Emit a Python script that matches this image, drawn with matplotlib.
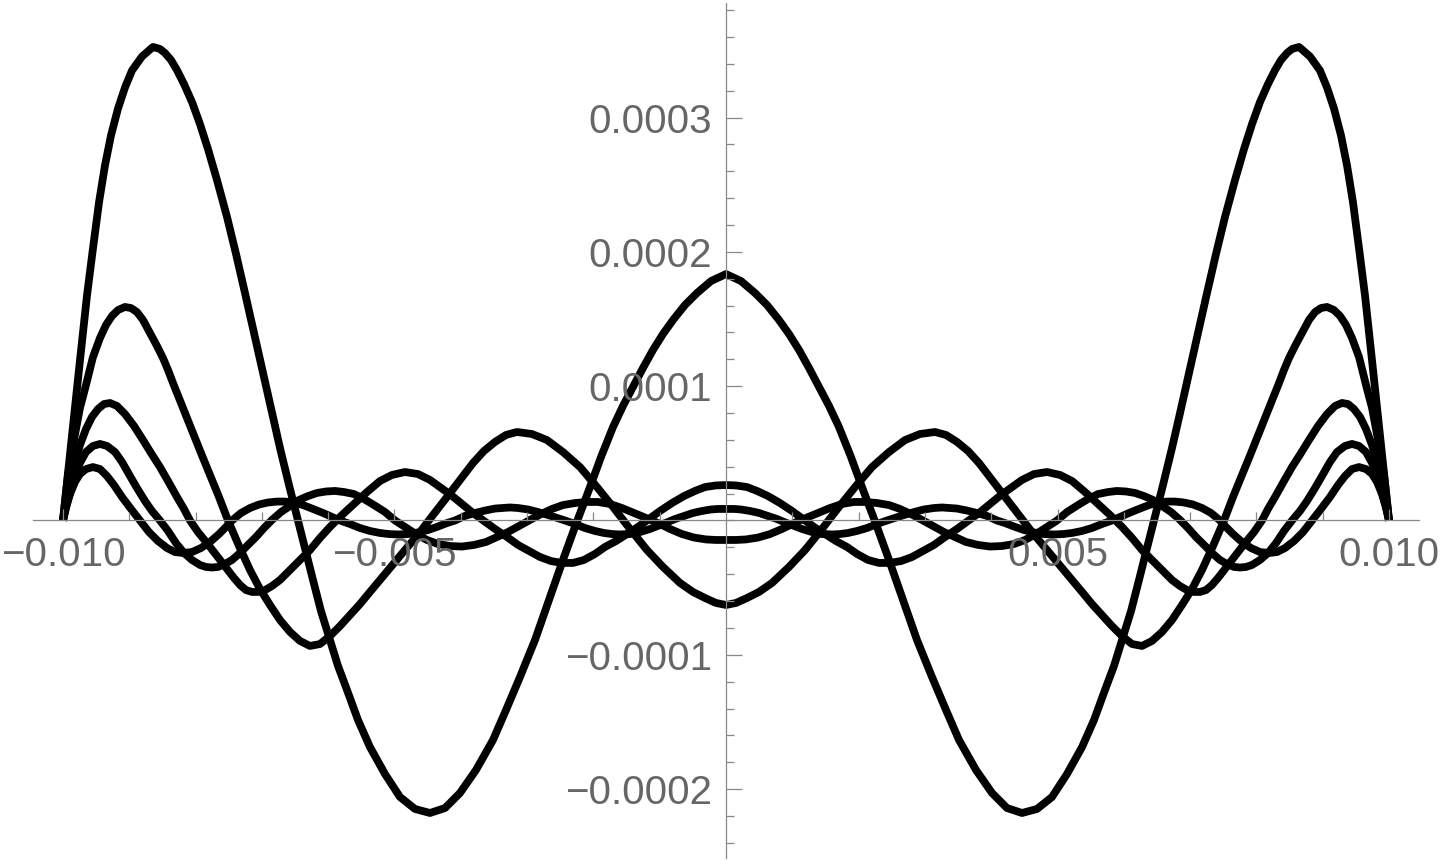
import numpy as np
import matplotlib
matplotlib.use("Agg")
import matplotlib.pyplot as plt
from matplotlib.ticker import MultipleLocator, FixedLocator

## left half of every curve
## x in units of 1e-3, y in units of 1e-5 ; the figure is mirror symmetric about x = 0
xa = [-10.0, -9.925, -9.849, -9.744, -9.638, -9.548, -9.457, -9.367, -9.276, -9.170, -9.065,
      -8.959, -8.808, -8.643, -8.537, -8.462, -8.371, -8.281, -8.175, -8.054, -7.934, -7.813,
      -7.677, -7.526, -7.390, -7.255, -7.119, -6.983, -6.848, -6.727, -6.591, -6.456, -6.350,
      -6.229, -6.109, -5.973, -5.852, -5.716, -5.551, -5.370, -5.143, -4.917, -4.691, -4.465,
      -4.238, -4.012, -3.771, -3.514, -3.318, -3.107, -2.881, -2.670, -2.459, -2.262, -2.051,
      -1.885, -1.704, -1.554, -1.403, -1.252, -1.101, -0.950, -0.799, -0.618, -0.437, -0.226, 0.0]
ya = [0.0, 3.50, 7.00, 11.91, 16.75, 20.25, 23.68, 26.43, 28.67, 30.68, 32.24,
      33.51, 34.55, 35.26, 35.11, 34.81, 34.29, 33.54, 32.50, 31.16, 29.52, 27.66,
      25.35, 22.60, 19.84, 16.94, 13.96, 10.98, 8.00, 5.40, 2.64, 0.0, -2.05,
      -4.43, -6.74, -8.90, -10.83, -12.62, -14.85, -16.87, -18.88, -20.59, -21.48, -21.78,
      -21.41, -20.29, -18.58, -16.34, -14.11, -11.65, -8.90, -5.92, -2.94, -0.26, 2.49,
      4.73, 6.96, 8.53, 9.94, 11.36, 12.70, 13.89, 14.93, 16.05, 16.94, 17.83, 18.35]

xb = [-10.0, -9.925, -9.849, -9.744, -9.653, -9.548, -9.442, -9.351, -9.261, -9.170, -9.065,
      -8.974, -8.884, -8.793, -8.688, -8.582, -8.492, -8.416, -8.341, -8.190, -8.039, -7.919,
      -7.783, -7.647, -7.511, -7.345, -7.179, -7.029, -6.878, -6.727, -6.576, -6.425, -6.275,
      -6.124, -5.973, -5.822, -5.671, -5.520, -5.370, -5.219, -5.068, -4.842, -4.615, -4.419,
      -4.208, -4.012, -3.816, -3.650, -3.484, -3.318, -3.152, -2.926, -2.700, -2.459, -2.202,
      -1.946, -1.704, -1.448, -1.192, -0.950, -0.694, -0.498, -0.317, -0.151, 0.0]
yb = [0.0, 3.39, 5.62, 8.38, 10.09, 12.17, 13.59, 14.56, 15.23, 15.67, 15.90,
      15.82, 15.52, 14.93, 13.96, 12.99, 12.10, 11.21, 10.24, 8.38, 6.52, 5.03,
      3.39, 1.75, 0.0, -1.90, -3.69, -5.10, -6.29, -7.41, -8.30, -8.97, -9.34,
      -9.20, -8.60, -7.86, -7.04, -6.22, -5.32, -4.43, -3.54, -2.20, -0.86, 0.41,
      1.75, 3.02, 4.28, 5.18, 5.85, 6.37, 6.59, 6.44, 5.99, 5.10, 3.98,
      2.49, 1.01, -0.63, -2.20, -3.46, -4.65, -5.32, -5.77, -6.14, -6.29]

xc = [-10.0, -9.955, -9.894, -9.819, -9.744, -9.653, -9.563, -9.472, -9.382, -9.291, -9.186,
      -9.065, -8.929, -8.793, -8.673, -8.537, -8.416, -8.281, -8.175, -8.084, -7.964, -7.828,
      -7.677, -7.526, -7.421, -7.330, -7.240, -7.149, -7.059, -6.953, -6.848, -6.727, -6.546,
      -6.410, -6.275, -6.124, -5.973, -5.792, -5.596, -5.415, -5.219, -5.038, -4.842, -4.646,
      -4.465, -4.314, -4.148, -3.982, -3.816, -3.650, -3.484, -3.303, -3.137, -2.971, -2.805,
      -2.640, -2.474, -2.308, -2.142, -1.976, -1.825, -1.659, -1.493, -1.327, -1.161, -0.995,
      -0.814, -0.633, -0.468, -0.317, -0.151, 0.0]
yc = [0.0, 1.15, 2.72, 4.28, 5.62, 6.81, 7.71, 8.30, 8.67, 8.75, 8.53,
      7.93, 7.04, 5.99, 5.03, 3.98, 2.94, 1.75, 0.86, 0.0, -0.86, -1.68,
      -2.64, -3.61, -4.28, -4.80, -5.18, -5.32, -5.32, -5.18, -4.88, -4.43, -3.54,
      -2.87, -2.20, -1.30, -0.48, 0.41, 1.30, 2.12, 2.94, 3.39, 3.61, 3.46,
      3.02, 2.49, 1.90, 1.23, 0.56, -0.04, -0.63, -1.23, -1.82, -2.27, -2.72,
      -3.02, -3.16, -3.16, -2.94, -2.49, -1.97, -1.53, -1.01, -0.48, 0.11, 0.71,
      1.30, 1.82, 2.20, 2.49, 2.61, 2.64]

xd = [-10.0, -9.955, -9.894, -9.819, -9.744, -9.653, -9.548, -9.442, -9.336, -9.216, -9.110,
      -8.989, -8.884, -8.763, -8.658, -8.537, -8.416, -8.296, -8.175, -8.054, -7.934, -7.843,
      -7.753, -7.662, -7.557, -7.451, -7.330, -7.210, -7.089, -6.968, -6.848, -6.712, -6.576,
      -6.440, -6.305, -6.169, -6.033, -5.897, -5.762, -5.611, -5.460, -5.309, -5.143, -4.992,
      -4.842, -4.676, -4.510, -4.344, -4.163, -3.982, -3.801, -3.620, -3.454, -3.288, -3.122,
      -2.956, -2.790, -2.624, -2.459, -2.278, -2.097, -1.931, -1.750, -1.569, -1.388, -1.207,
      -1.026, -0.845, -0.664, -0.483, -0.302, -0.151, 0.0]
yd = [0.0, 0.93, 2.05, 3.31, 4.28, 5.10, 5.55, 5.70, 5.55, 5.10, 4.36,
      3.31, 2.42, 1.45, 0.71, 0.0, -0.78, -1.68, -2.42, -2.94, -3.31, -3.46,
      -3.50, -3.46, -3.24, -2.94, -2.42, -1.82, -1.23, -0.56, 0.04, 0.63, 1.08,
      1.53, 1.82, 2.05, 2.16, 2.20, 2.12, 1.97, 1.60, 1.15, 0.63, 0.0,
      -0.48, -1.01, -1.45, -1.75, -1.90, -1.94, -1.82, -1.60, -1.23, -0.86, -0.41,
      0.04, 0.48, 0.86, 1.15, 1.30, 1.38, 1.38, 1.23, 0.93, 0.56, 0.19,
      -0.19, -0.63, -1.01, -1.27, -1.41, -1.45, -1.45]

xe = [-10.0, -9.955, -9.894, -9.819, -9.744, -9.653, -9.548, -9.442, -9.336, -9.231, -9.110,
      -8.974, -8.839, -8.703, -8.567, -8.431, -8.311, -8.190, -8.054, -7.919, -7.783, -7.647,
      -7.541, -7.451, -7.315, -7.179, -7.044, -6.908, -6.772, -6.652, -6.516, -6.380, -6.229,
      -6.078, -5.943, -5.822, -5.671, -5.520, -5.370, -5.219, -5.083, -4.947, -4.796, -4.646,
      -4.495, -4.344, -4.208, -4.087, -3.937, -3.786, -3.635, -3.484, -3.363, -3.258, -3.137,
      -2.986, -2.836, -2.685, -2.549, -2.428, -2.278, -2.127, -1.976, -1.840, -1.719, -1.599,
      -1.448, -1.297, -1.146, -0.995, -0.875, -0.769, -0.633, -0.498, -0.362, -0.226, -0.121, 0.0]
ye = [0.0, 1.01, 1.97, 2.87, 3.46, 3.83, 3.98, 3.83, 3.31, 2.64, 1.75,
      0.86, 0.0, -0.86, -1.53, -2.05, -2.35, -2.42, -2.35, -2.05, -1.60, -1.01,
      -0.48, 0.0, 0.56, 0.93, 1.19, 1.34, 1.41, 1.41, 1.34, 1.15, 0.86,
      0.56, 0.26, 0.0, -0.26, -0.56, -0.78, -0.93, -1.01, -1.04, -1.01, -0.89,
      -0.71, -0.45, -0.19, 0.0, 0.34, 0.56, 0.74, 0.89, 0.93, 0.97, 0.93,
      0.82, 0.63, 0.41, 0.19, 0.0, -0.26, -0.56, -0.78, -0.93, -1.01, -1.04,
      -1.01, -0.86, -0.63, -0.34, -0.11, 0.11, 0.34, 0.56, 0.71, 0.82, 0.86, 0.86]

curves = [(xa, ya), (xb, yb), (xc, yc), (xd, yd), (xe, ye)]

yticks_major = [-0.0002, -0.0001, 0.0001, 0.0002, 0.0003]
ytick_labels = ["\u22120.0002", "\u22120.0001", "0.0001", "0.0002", "0.0003"]
xticks_major = [-0.010, -0.005, 0.005, 0.010]
xtick_labels = ["\u22120.010", "\u22120.005", "0.005", "0.010"]


def mirrored(xs, ys):
    xs = np.asarray(xs) * 1e-3
    ys = np.asarray(ys) * 1e-5
    return np.concatenate([xs, -xs[-2::-1]]), np.concatenate([ys, ys[-2::-1]])


plt.rcParams['font.family'] = ['Liberation Sans', 'DejaVu Sans']

fig = plt.figure(figsize=(14.4, 8.6), dpi=100)
ax = fig.add_axes([0, 0, 1, 1])
ax.patch.set_alpha(0)

for xs, ys in curves:
    x, y = mirrored(xs, ys)
    ax.plot(x, y, color='black', lw=5.6, solid_joinstyle='round', solid_capstyle='butt')

ax.set_xlim(-0.01095, 0.010769)
ax.set_ylim(-2.528e-4, 3.8757e-4)

axis_col = '#888888'
text_col = '#666666'
for s in ['top', 'right']:
    ax.spines[s].set_visible(False)
ax.spines['left'].set_position(('data', 0))
ax.spines['bottom'].set_position(('data', 0))
ax.spines['left'].set_bounds(-2.51e-4, 3.85e-4)
ax.spines['bottom'].set_bounds(-0.01045, 0.01045)
for s in ['left', 'bottom']:
    ax.spines[s].set_color(axis_col)
    ax.spines[s].set_linewidth(0.9)
ax.set_axisbelow(False)

ax.yaxis.set_major_locator(FixedLocator(yticks_major))
ax.yaxis.set_minor_locator(MultipleLocator(0.00002))
ax.set_yticklabels(ytick_labels)
ax.xaxis.set_major_locator(FixedLocator(xticks_major))
ax.xaxis.set_minor_locator(FixedLocator([k * 0.001 for k in range(-10, 11) if k % 5 != 0]))
ax.set_xticklabels(xtick_labels)

ax.tick_params(which='both', direction='in', color=axis_col, width=0.9, labelcolor=text_col,
               labelsize=29)
ax.tick_params(axis='y', which='major', length=11.5, pad=10)
ax.tick_params(axis='y', which='minor', length=5.5)
ax.tick_params(axis='x', which='major', length=8, pad=11)
ax.tick_params(axis='x', which='minor', length=5.5)

fig.savefig('out.png', dpi=100, facecolor='white')
